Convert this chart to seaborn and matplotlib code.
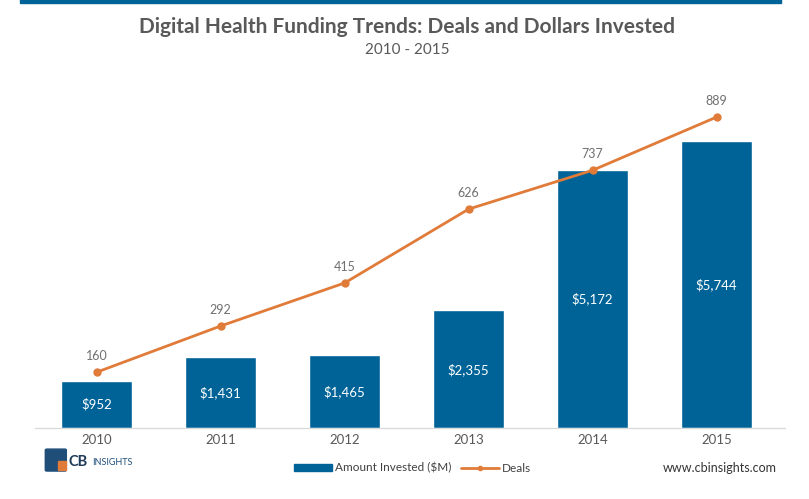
import numpy as np
import pandas as pd
import matplotlib.pyplot as plt
import matplotlib.patches as mpatches
import seaborn as sns

years = ['2010', '2011', '2012', '2013', '2014', '2015']
amount = [952, 1431, 1465, 2355, 5172, 5744]
deals = [160, 292, 415, 626, 737, 889]

bar_color = '#006398'
line_color = '#E07B39'

sns.set_style('white')
plt.rcParams['font.family'] = ['Lato', 'DejaVu Sans']

df = pd.DataFrame({'year': years, 'amount': amount, 'deals': deals})

fig = plt.figure(figsize=(8.09, 4.99), dpi=100)
ax = fig.add_axes([0.043, 0.142, 0.927, 0.697])

sns.barplot(data=df, x='year', y='amount', color=bar_color, width=0.57,
            saturation=1, ax=ax)
ax.set_ylim(0, 6960)
ax.set_xlim(-0.5, 5.55)

ax2 = ax.twinx()
ax2.plot(range(len(years)), df['deals'], color=line_color, lw=2,
         marker='o', ms=5)
ax2.set_ylim(0, 994)
ax2.set_xlim(-0.5, 5.55)

# value labels
for i, v in enumerate(amount):
    ax.text(i, v / 2, f'${v:,}', ha='center', va='center', color='white',
            fontsize=9.5)
for i, d in enumerate(deals):
    ax2.text(i, d + 28, str(d), ha='center', va='bottom', color='#707070',
             fontsize=9)

for a in (ax, ax2):
    a.set_yticks([])
    a.set_ylabel('')
    for s in ['top', 'right', 'left']:
        a.spines[s].set_visible(False)
    a.spines['bottom'].set_color('#D9D9D9')
ax.set_xlabel('')
ax.tick_params(axis='x', length=0, pad=4, labelsize=9.5, labelcolor='#595959')

# titles
fig.text(0.503, 0.945, 'Digital Health Funding Trends: Deals and Dollars Invested',
         ha='center', va='center', fontsize=15, fontweight='bold', color='#595959')
fig.text(0.503, 0.9, '2010 - 2015', ha='center', va='center', fontsize=11,
         color='#595959')

# top bar
fig.patches.append(mpatches.Rectangle((0.025, 0.993), 0.94, 0.01,
                                      transform=fig.transFigure,
                                      color=bar_color, zorder=5))

# legend
handles = [mpatches.Patch(color=bar_color, label='Amount Invested ($M)'),
           plt.Line2D([], [], color=line_color, lw=2, marker='o', ms=3,
                      label='Deals')]
fig.legend(handles=handles, loc='center', bbox_to_anchor=(0.51, 0.062),
           ncol=2, frameon=False, fontsize=8.5, handlelength=3.2,
           handleheight=0.5, columnspacing=0.8, handletextpad=0.3,
           labelcolor='#404040')

# logo
fig.patches.append(mpatches.FancyBboxPatch((0.058, 0.058), 0.022, 0.04,
                                           boxstyle='round,pad=0.002',
                                           transform=fig.transFigure,
                                           color='#1F4E79'))
fig.patches.append(mpatches.Rectangle((0.072, 0.058), 0.01, 0.018,
                                      transform=fig.transFigure,
                                      color=line_color))
fig.text(0.085, 0.075, 'CB', ha='left', va='center', fontsize=10.5,
         fontweight='bold', color='#1F3B57')
fig.text(0.114, 0.074, 'INSIGHTS', ha='left', va='center', fontsize=6.5,
         color='#1F4E79')

fig.text(0.96, 0.062, 'www.cbinsights.com', ha='right', va='center',
         fontsize=9, color='#333333')

fig.savefig('out.png', dpi=100)
